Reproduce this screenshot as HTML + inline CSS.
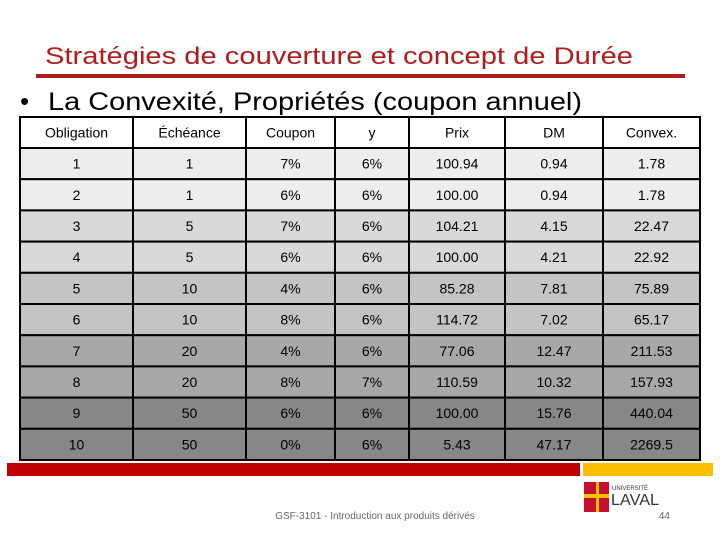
<!DOCTYPE html>
<html><head><meta charset="utf-8"><style>
html,body{margin:0;padding:0;background:#fff;}
svg{display:block;font-family:"Liberation Sans",sans-serif;}
</style></head><body>
<svg width="720" height="540" viewBox="0 0 720 540">
<text x="45" y="64" font-size="24" fill="#b01c1c" textLength="588" lengthAdjust="spacingAndGlyphs">Stratégies de couverture et concept de Durée</text>
<rect x="36" y="74" width="649" height="4" fill="#b01c1c"/>
<text x="20" y="110" font-size="26" fill="#000">•</text>
<text x="48" y="110" font-size="25" fill="#000" textLength="534" lengthAdjust="spacingAndGlyphs">La Convexité, Propriétés (coupon annuel)</text>
<g id="tbl"></g>
<rect x="7" y="463" width="573" height="13" fill="#c00000"/>
<rect x="583" y="463" width="130" height="13" fill="#fcbf00"/>
<g>
<rect x="584" y="482" width="25" height="30" fill="#c8102e"/>
<rect x="596" y="482" width="3" height="30" fill="#f5c400"/>
<rect x="584" y="494" width="25" height="4" fill="#f5c400"/>
<text x="612" y="490" font-size="6" fill="#333">UNIVERSITÉ</text>
<text x="611" y="505" font-size="16" fill="#333" textLength="48" lengthAdjust="spacingAndGlyphs">LAVAL</text>
</g>
<text x="375" y="519" font-size="10" fill="#666" text-anchor="middle">GSF-3101 - Introduction aux produits dérivés</text>
<text x="670" y="519" font-size="10" fill="#666" text-anchor="end">44</text>
</svg>
<script>
const headers=["Obligation","Échéance","Coupon","y","Prix","DM","Convex."];
const obligation=["1","2","3","4","5","6","7","8","9","10"];
const echeance=["1","1","5","5","10","10","20","20","50","50"];
const coupon=["7%","6%","7%","6%","4%","8%","4%","8%","6%","0%"];
const yields=["6%","6%","6%","6%","6%","6%","6%","7%","6%","6%"];
const prix=["100.94","100.00","104.21","100.00","85.28","114.72","77.06","110.59","100.00","5.43"];
const dm=["0.94","0.94","4.15","4.21","7.81","7.02","12.47","10.32","15.76","47.17"];
const convex=["1.78","1.78","22.47","22.92","75.89","65.17","211.53","157.93","440.04","2269.5"];
const cols=[20,133,246,335,409,505,603,700];
const fills=["#ededed","#ededed","#d9d9d9","#d9d9d9","#c4c4c4","#c4c4c4","#a8a8a8","#a8a8a8","#878787","#878787"];
const top0=117,hh=31,rh=31.2;
const ns="http://www.w3.org/2000/svg";
const g=document.getElementById('tbl');
function cell(x,y,w,h,fill,txt,name){
  const r=document.createElementNS(ns,'rect');
  r.setAttribute('x',x);r.setAttribute('y',y);r.setAttribute('width',w);r.setAttribute('height',h);
  r.setAttribute('fill',fill);r.setAttribute('stroke','#000');r.setAttribute('stroke-width','2');
  
  
  g.appendChild(r);
  const t=document.createElementNS(ns,'text');
  t.setAttribute('x',x+w/2);t.setAttribute('y',y+h/2+5);t.setAttribute('font-size','14');
  t.setAttribute('text-anchor','middle');t.textContent=txt;
  
  
  g.appendChild(t);
}
headers.forEach((h,c)=>cell(cols[c],top0,cols[c+1]-cols[c],hh,'#fff',h,'header-cell'));
const data=[obligation,echeance,coupon,yields,prix,dm,convex];
obligation.forEach((_,i)=>{
  const y=top0+hh+i*rh;
  data.forEach((arr,c)=>cell(cols[c],y,cols[c+1]-cols[c],rh,fills[i],arr[i],'table-cell'));
});
</script>
</body></html>
